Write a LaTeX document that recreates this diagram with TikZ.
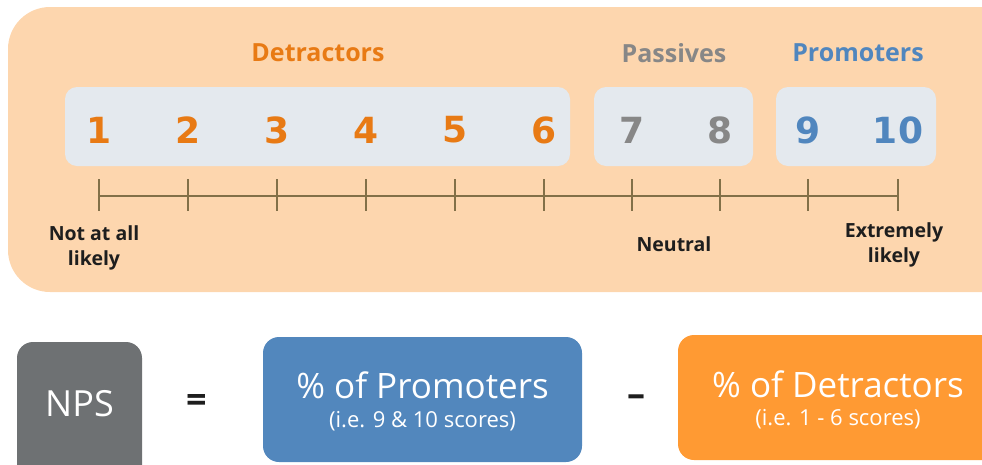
\documentclass[tikz,border=0pt]{standalone}
\usepackage{fontspec}
\setmainfont{Open Sans}
\newfontfamily\numfont{DejaVu Sans}
\definecolor{peach}{RGB}{253,214,174}
\definecolor{boxgray}{RGB}{228,233,238}
\definecolor{detor}{RGB}{232,122,20}
\definecolor{passg}{RGB}{135,135,135}
\definecolor{promb}{RGB}{80,134,190}
\definecolor{tickc}{RGB}{130,112,72}
\definecolor{npsgray}{RGB}{110,113,115}
\definecolor{bluebox}{RGB}{82,135,189}
\definecolor{orangebox}{RGB}{255,154,51}
\definecolor{txt}{RGB}{30,30,30}
\tikzset{
  numbox/.style={fill=boxgray, rounded corners=12pt, draw=none},
  num/.style={font=\numfont\fontsize{36}{36}\selectfont\bfseries, anchor=center},
  grp/.style={font=\fontsize{25}{25}\selectfont\bfseries, anchor=center},
  lbl/.style={font=\fontsize{19.5}{25}\selectfont\bfseries, text=txt, align=center, anchor=center},
  bigbox/.style={rounded corners=16pt, draw=none},
  bigtxt/.style={font=\fontsize{35}{35}\selectfont, text=white, anchor=center},
  subtxt/.style={font=\fontsize{22}{22}\selectfont, text=white, anchor=center},
  tickline/.style={draw=tickc, line width=1.6pt}
}
\begin{document}
\begin{tikzpicture}[x=1pt,y=-1pt]
\useasboundingbox (0,0) rectangle (982,464);
\clip (0,0) rectangle (982,464);
% background panel
\fill[peach, rounded corners=42pt] (8,7) rectangle (1030,292);
% gray boxes
\node[numbox, minimum width=505pt, minimum height=79pt] (b1) at (317.5,126.5) {};
\node[numbox, minimum width=159pt, minimum height=79pt] (b2) at (673.5,126.5) {};
\node[numbox, minimum width=160pt, minimum height=79pt] (b3) at (856,126.5) {};
% group labels
\node[grp, text=detor] (gd) at (318,53) {Detractors};
\node[grp, text=passg] (gp) at (674,53) {Passives};
\node[grp, text=promb] (gr) at (858,53) {Promoters};
% numbers and ticks
\foreach \i/\x/\c in {1/99/detor,2/188/detor,3/277/detor,4/366/detor,5/455/detor,6/544/detor,7/632/passg,8/720/passg,9/808/promb,10/898/promb}{
  \node[num, text=\c] (n\i) at (\x,130) {\i};
  \coordinate (t\i) at (\x,196);
  \coordinate (tu\i) at (\x,179);
  \coordinate (td\i) at (\x,211);
  \draw[tickline] (tu\i) -- (td\i);
}
\draw[tickline] (t1) -- (t10);
% scale labels
\node[lbl] (l1) at (94,248) {Not at all\\likely};
\node[lbl] (l2) at (674,244) {Neutral};
\node[lbl] (l3) at (894,245) {Extremely\\likely};
% formula
\node[bigbox, fill=npsgray, minimum width=125pt, minimum height=140pt] (nps) at (79.5,412) {};
\node[font=\fontsize{36}{36}\selectfont, text=white] (npst) at (79.5,404) {NPS};
\node[font=\fontsize{36}{36}\selectfont\bfseries, text=txt] (eq) at (197,403) {=};
\node[bigbox, fill=bluebox, minimum width=319pt, minimum height=125pt] (pb) at (422.5,399.5) {};
\node[bigtxt] (pt) at (422.5,385) {\% of Promoters};
\node[subtxt] (ps) at (422.5,421) {(i.e. 9 \& 10 scores)};
\node[font=\fontsize{36}{36}\selectfont\bfseries, text=txt] (mi) at (636,401) {–};
\node[bigbox, fill=orangebox, minimum width=340pt, minimum height=125pt] (db) at (848,397.5) {};
\node[bigtxt] (dt) at (838,384) {\% of Detractors};
\node[subtxt] (ds) at (838,419) {(i.e. 1 - 6 scores)};
\end{tikzpicture}
\end{document}
